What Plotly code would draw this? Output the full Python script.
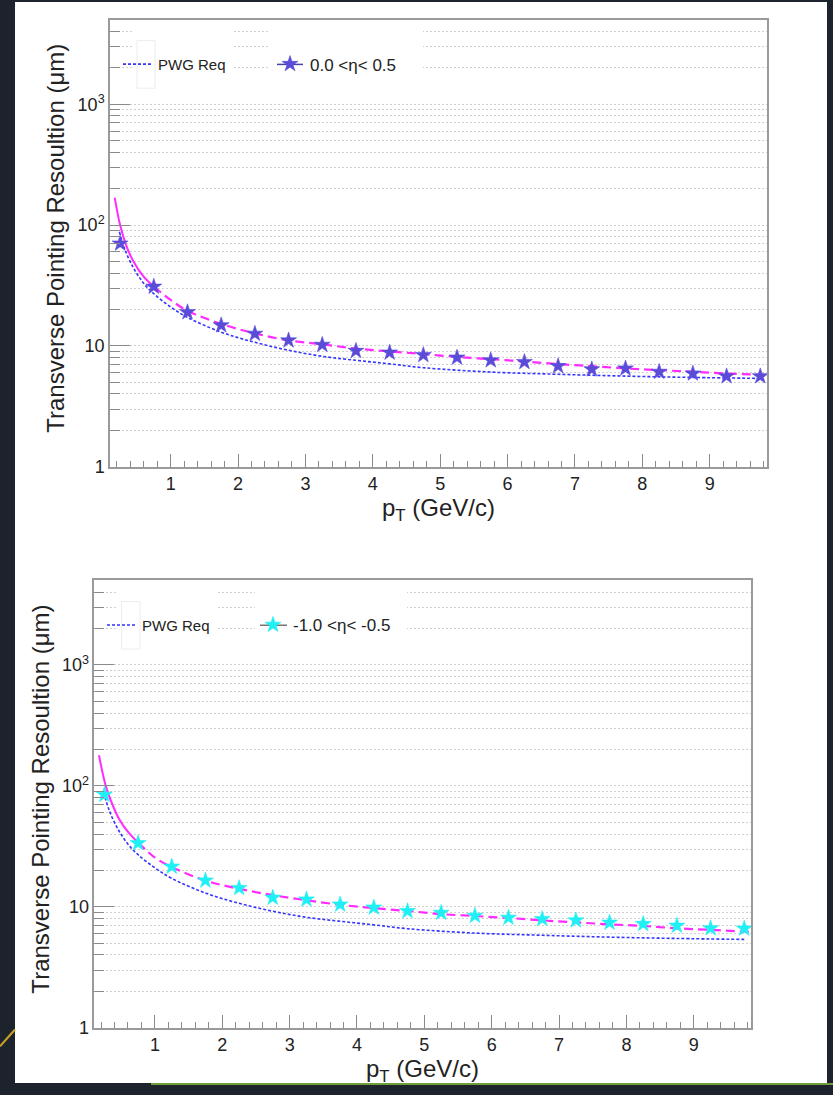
import numpy as np
import plotly.graph_objects as go

W, H = 833, 1095

# ---------------- data ----------------
pt_bins = [0.25, 0.75, 1.25, 1.75, 2.25, 2.75, 3.25, 3.75, 4.25, 4.75,
           5.25, 5.75, 6.25, 6.75, 7.25, 7.75, 8.25, 8.75, 9.25, 9.75]

res_eta_0_05 = [70.3, 30.9, 19.0, 14.8, 12.6, 11.1, 10.2, 9.1, 8.8, 8.4,
                8.0, 7.6, 7.35, 6.8, 6.4, 6.5, 6.1, 5.9, 5.6, 5.6]
res_eta_m10_m05 = [84.4, 33.6, 21.5, 16.5, 14.3, 11.9, 11.5, 10.45, 9.87, 9.22,
                   8.93, 8.44, 8.13, 7.93, 7.73, 7.40, 7.22, 6.99, 6.65, 6.61]

pwg_pt = [0.24, 0.32, 0.45, 0.6, 0.75, 1.0, 1.25, 1.75, 2.25, 2.75, 3.25,
          3.75, 4.25, 4.75, 5.75, 6.75, 7.75, 8.75, 9.75]
pwg_res = [88, 63, 44, 33, 27, 21, 17.2, 13.0, 10.7, 9.2, 8.2,
           7.6, 7.1, 6.6, 6.07, 5.82, 5.62, 5.48, 5.38]

fit_pt_top = [0.17, 0.25, 0.34, 0.44, 0.59, 0.75, 1.0, 1.25, 1.75, 2.25, 2.75,
              3.25, 3.75, 4.25, 4.75, 5.25, 5.75, 6.25, 6.75, 7.25, 7.75,
              8.25, 8.75, 9.25, 9.85]
fit_top = [169, 100, 68, 51, 38, 31, 24, 19.5, 15.2, 12.7, 11.1,
           10.3, 9.5, 9.0, 8.56, 8.1, 7.77, 7.43, 7.07, 6.8, 6.5,
           6.3, 6.1, 5.9, 5.75]

fit_pt_bot = [0.17, 0.27, 0.37, 0.47, 0.61, 0.75, 1.0, 1.25, 1.75, 2.25, 2.75,
              3.25, 3.75, 4.25, 4.75, 5.25, 5.75, 6.25, 6.75, 7.25, 7.75,
              8.25, 8.75, 9.25, 9.85]
fit_bot = [179, 100, 70, 53, 41, 34, 25.5, 21.3, 16.5, 14.1, 12.5,
           11.35, 10.4, 9.75, 9.25, 8.71, 8.4, 8.09, 7.73, 7.44, 7.17,
           6.95, 6.65, 6.45, 6.21]

y_range_vals = [1, 5000]
x_range = [0.1, 9.85]
y_major_vals = [1, 10, 100, 1000]
y_major_text = ["1", "10", "10<sup>2</sup>", "10<sup>3</sup>"]
y_minor_vals = [m * 10 ** k for k in range(0, 4) for m in range(2, 10)]
x_major_vals = [1, 2, 3, 4, 5, 6, 7, 8, 9]

# ---------------- styles ----------------
FONT = "Liberation Sans, Arial, Helvetica, sans-serif"
MAGENTA = "#ff2bff"
BLUE = "#3535ff"
STAR_TOP = "#5a4bd8"
STAR_BOT = "#1ff0f5"
GRID = "#cfcfcf"
FRAME = "#9a9a9a"
TICK = "#8a8a8a"


def px_x(x):
    return x / W


def px_y(y):
    return 1 - y / H


fig = go.Figure()


def add_panel(xa, ya, fit_pt, fit_vals, res, star_col, label, leg1, leg2):
    solid = [i for i, p in enumerate(fit_pt) if p <= 0.8]
    dashed = [i for i, p in enumerate(fit_pt) if p >= 0.75]
    fig.add_trace(go.Scatter(
        x=pwg_pt, y=pwg_res, mode="lines", name="PWG Req",
        line=dict(color=BLUE, width=1.6, dash="3px,2px", shape="spline"),
        xaxis=xa, yaxis=ya, legend=leg1, showlegend=True))
    fig.add_trace(go.Scatter(
        x=[fit_pt[i] for i in solid], y=[fit_vals[i] for i in solid],
        mode="lines", line=dict(color=MAGENTA, width=2, shape="spline"),
        xaxis=xa, yaxis=ya, showlegend=False, hoverinfo="skip"))
    fig.add_trace(go.Scatter(
        x=[fit_pt[i] for i in dashed], y=[fit_vals[i] for i in dashed],
        mode="lines", line=dict(color=MAGENTA, width=2.2, dash="9px,5px", shape="spline"),
        xaxis=xa, yaxis=ya, showlegend=False, hoverinfo="skip"))
    fig.add_trace(go.Scatter(
        x=pt_bins, y=res, mode="markers", name=label,
        marker=dict(symbol="star", size=12, color=star_col,
                    line=dict(width=0.6, color=star_col)),
        xaxis=xa, yaxis=ya, legend=leg2, showlegend=True))


add_panel("x", "y", fit_pt_top, fit_top, res_eta_0_05, STAR_TOP,
          "0.0 <η< 0.5", "legend", "legend2")
add_panel("x2", "y2", fit_pt_bot, fit_bot, res_eta_m10_m05, STAR_BOT,
          "-1.0 <η< -0.5", "legend3", "legend4")


def xaxis_cfg(x0, x1, anchor):
    return dict(domain=[px_x(x0), px_x(x1)], anchor=anchor, range=x_range,
                tickmode="array", tickvals=x_major_vals,
                ticks="inside", ticklen=13, tickwidth=1.2,
                tickcolor=TICK, showline=True, linecolor=FRAME, linewidth=1.5,
                mirror=True, showgrid=False, zeroline=False,
                tickfont=dict(family=FONT, size=18, color="#222"),
                minor=dict(ticks="inside", ticklen=6, tickwidth=1.1,
                           tickcolor=TICK, tickmode="linear", tick0=0,
                           dtick=0.2, showgrid=False))


def yaxis_cfg(y0, y1, anchor):
    return dict(domain=[px_y(y1), px_y(y0)], anchor=anchor, type="log",
                range=[np.log10(y_range_vals[0]), np.log10(y_range_vals[1])],
                tickmode="array", tickvals=y_major_vals, ticktext=y_major_text,
                ticks="inside", ticklen=20,
                tickwidth=1.2, tickcolor=TICK, showline=True, linecolor=FRAME,
                linewidth=1.5, mirror=True, zeroline=False,
                showgrid=True, gridcolor=GRID, gridwidth=1, griddash="2px,2px",
                tickfont=dict(family=FONT, size=18, color="#222"),
                minor=dict(ticks="inside", ticklen=10, tickwidth=1.1,
                           tickcolor=TICK, tickmode="array",
                           tickvals=y_minor_vals, showgrid=True,
                           gridcolor=GRID, gridwidth=1, griddash="2px,2px"))


def legend_cfg(x, y, size):
    return dict(x=px_x(x), y=px_y(y), xanchor="left", yanchor="middle",
                xref="paper", yref="paper",
                bgcolor="rgba(0,0,0,0)", borderwidth=0, itemwidth=30,
                font=dict(family=FONT, size=size, color="#222"))


shapes = [
    # white slide panel
    dict(type="rect", xref="paper", yref="paper", x0=px_x(15), x1=px_x(827),
         y0=px_y(1093), y1=px_y(2), fillcolor="white", line=dict(width=0),
         layer="below"),
    # green strip at bottom edge
    dict(type="rect", xref="paper", yref="paper", x0=px_x(151), x1=1,
         y0=0, y1=px_y(1093), fillcolor="#6f9e3c", line=dict(width=0),
         layer="below"),
    # gold stroke in the margin
    dict(type="line", xref="paper", yref="paper", x0=0, y0=px_y(1056),
         x1=px_x(15), y1=px_y(1039), line=dict(color="#c9a227", width=2),
         layer="below"),
]

# legend background boxes (cover the grid) and decorations
for (bx0, bx1, by0, by1) in [(133, 233, 22, 100), (270, 423, 22, 100),
                              (117, 217, 588, 665), (255, 407, 588, 665)]:
    shapes.append(dict(type="rect", xref="paper", yref="paper",
                       x0=px_x(bx0), x1=px_x(bx1), y0=px_y(by1), y1=px_y(by0),
                       fillcolor="white", line=dict(width=0), layer="above"))
for (rx0, rx1, ry0, ry1) in [(137, 155, 41, 89), (121.5, 140, 607, 655)]:
    shapes.append(dict(type="rect", xref="paper", yref="paper",
                       x0=px_x(rx0), x1=px_x(rx1), y0=px_y(ry1), y1=px_y(ry0),
                       fillcolor="rgba(0,0,0,0)",
                       line=dict(color="#ececec", width=1), layer="above"))
for (lx0, lx1, ly, col) in [(277, 303, 65, "#4444a8"), (260, 287, 631, "#777777")]:
    shapes.append(dict(type="line", xref="paper", yref="paper",
                       x0=px_x(lx0), x1=px_x(lx1), y0=px_y(ly), y1=px_y(ly),
                       line=dict(color=col, width=1.5), layer="above"))

annotations = [
    dict(text="Transverse Pointing Resoultion (μm)", x=px_x(56), y=px_y(241),
         xref="paper", yref="paper", textangle=-90, showarrow=False,
         xanchor="center", yanchor="middle",
         font=dict(family=FONT, size=24, color="#222")),
    dict(text="p<sub>T</sub> (GeV/c)", x=px_x(438), y=px_y(514),
         xref="paper", yref="paper", showarrow=False,
         xanchor="center", yanchor="middle",
         font=dict(family=FONT, size=24, color="#222")),
    dict(text="Transverse Pointing Resoultion (μm)", x=px_x(41), y=px_y(807),
         xref="paper", yref="paper", textangle=-90, showarrow=False,
         xanchor="center", yanchor="middle",
         font=dict(family=FONT, size=24, color="#222")),
    dict(text="p<sub>T</sub> (GeV/c)", x=px_x(423), y=px_y(1080),
         xref="paper", yref="paper", showarrow=False,
         xanchor="center", yanchor="middle",
         font=dict(family=FONT, size=24, color="#222")),
]

fig.update_layout(
    width=W, height=H, autosize=False,
    margin=dict(l=0, r=0, t=0, b=0, pad=0),
    paper_bgcolor="#1d232c", plot_bgcolor="white",
    font=dict(family=FONT, color="#222"),
    xaxis=xaxis_cfg(110, 767, "y"),
    yaxis=yaxis_cfg(20, 471, "x"),
    xaxis2=xaxis_cfg(94.3, 751, "y2"),
    yaxis2=yaxis_cfg(585.7, 1037.3, "x2"),
    legend=legend_cfg(118, 65, 15),
    legend2=legend_cfg(270, 65, 17),
    legend3=legend_cfg(102, 631, 15),
    legend4=legend_cfg(253, 631, 17),
    shapes=shapes,
    annotations=annotations,
)

fig.write_html("out.html")
